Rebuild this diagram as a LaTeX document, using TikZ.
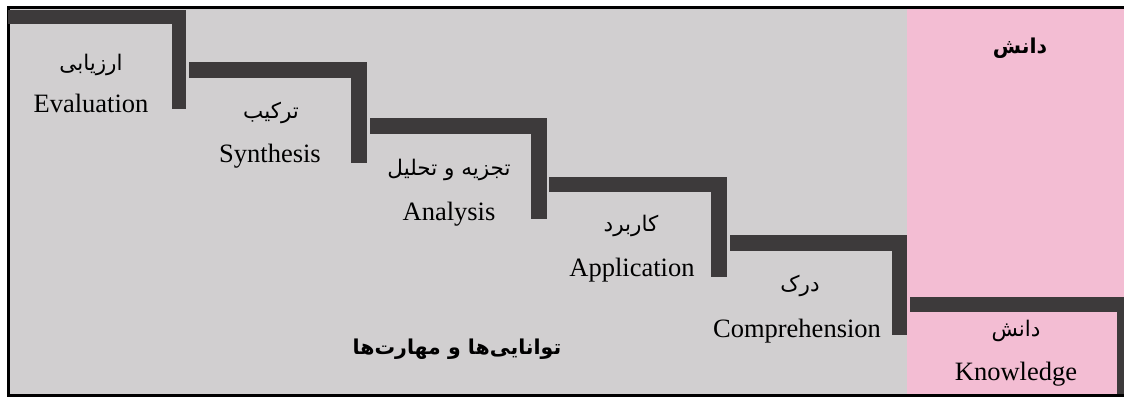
\documentclass[tikz,border=0pt]{standalone}
\usepackage{fontspec}
\setmainfont{Liberation Serif}
\newfontfamily\fa[Script=Arabic]{DejaVu Sans}
\TeXXeTstate=1
\definecolor{bgc}{RGB}{209,207,208}
\definecolor{pkc}{RGB}{243,189,211}
\definecolor{barc}{RGB}{61,58,59}
\begin{document}
\begin{tikzpicture}[x=1pt,y=-1pt,
  en/.style={font=\fontsize{26.5}{30}\selectfont, inner sep=0pt},
  fat/.style={font=\fa\fontsize{21.5}{25}\selectfont, inner sep=0pt},
  fab/.style={font=\fa\bfseries\fontsize{20.5}{24}\selectfont, inner sep=0pt},
  barpart/.style={fill=barc}]
\useasboundingbox (0,0) rectangle (1124,397);
\fill[white] (0,0) rectangle (1124,397);
% backgrounds
\fill[bgc] (8,7) rectangle (907,395);
\fill[pkc] (907,7) rectangle (1124,395);
% frame
\draw[black, line width=3pt] (1124,7) -- (8,7) -- (8,395) -- (1124,395);
% staircase
\fill[barpart] (8,10) rectangle (186,24);
\fill[barpart] (172,10) rectangle (186,109);
\fill[barpart] (189,62) rectangle (367,78);
\fill[barpart] (351,62) rectangle (367,163);
\fill[barpart] (370,118) rectangle (547,134);
\fill[barpart] (531,118) rectangle (547,219);
\fill[barpart] (549,177) rectangle (727,192);
\fill[barpart] (711,177) rectangle (727,277);
\fill[barpart] (730,235) rectangle (907,251);
\fill[barpart] (892,235) rectangle (907,335);
\fill[barpart] (910,297) rectangle (1124,312);
\fill[barpart] (1117,297) rectangle (1124,393.5);
% labels
\node[fat] (evfa) at (91,65) {\beginR ارزیابی\endR};
\node[en] (ev) at (91,103) {Evaluation};
\node[fat] (syfa) at (271,113) {\beginR ترکیب\endR};
\node[en] (sy) at (270,156) {Synthesis};
\node[fat] (anfa) at (449,170) {\beginR تجزیه و تحلیل\endR};
\node[en] (an) at (449,214) {Analysis};
\node[fat] (apfa) at (631,226) {\beginR کاربرد\endR};
\node[en] (ap) at (632,270) {Application};
\node[fat] (cofa) at (800,286) {\beginR درک\endR};
\node[en] (co) at (797,331) {Comprehension};
\node[fat] (knfa) at (1016,331) {\beginR دانش\endR};
\node[en] (kn) at (1016,374) {Knowledge};
\node[fab] (knhead) at (1020,48) {\beginR دانش\endR};
\node[fab] (skills) at (457,349) {\beginR توانایی‌ها و مهارت‌ها\endR};
\end{tikzpicture}
\end{document}
